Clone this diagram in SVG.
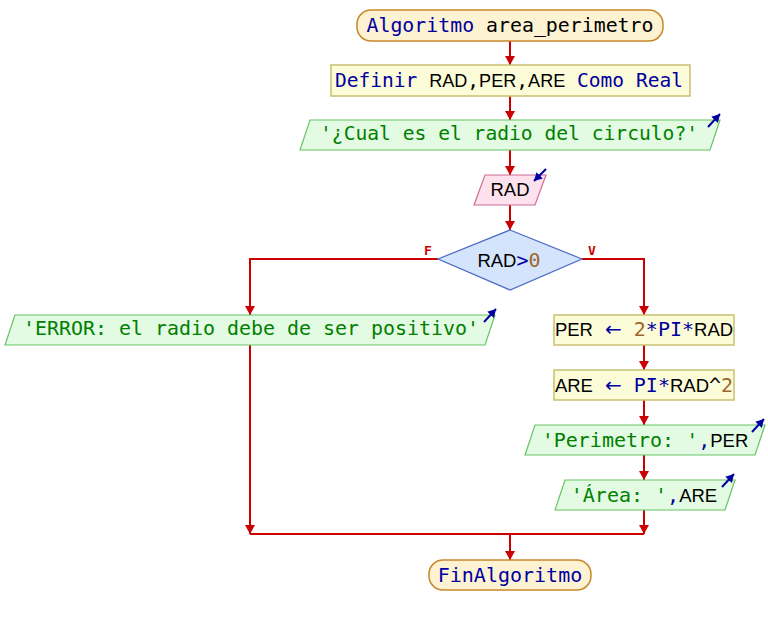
<svg xmlns="http://www.w3.org/2000/svg" width="768" height="625" viewBox="0 0 768 625">
<style>
.t{font-family:"DejaVu Sans Mono","Liberation Mono",monospace;font-size:20px;text-anchor:middle;fill:#000}
.id{font-family:"Liberation Sans","Arial",sans-serif;font-size:18.5px}
.ar{font-family:"DejaVu Sans",sans-serif;font-size:20px}
.kw{fill:#0000a0}
.str{fill:#008000}
.num{fill:#a0662a}
.term{fill:#fdf2d2;stroke:#c8882a;stroke-width:1.5}
.proc{fill:#fdfcd8;stroke:#c8c070;stroke-width:1.5}
.out{fill:#e2fbe2;stroke:#66c466;stroke-width:1.2}
.inp{fill:#fde2ee;stroke:#d06c98;stroke-width:1.2}
.dec{fill:#d4e4fc;stroke:#4a6ac8;stroke-width:1.2}
.c{fill:none;stroke:#cc0000;stroke-width:2}
.ic{fill:none;stroke:#0000a0;stroke-width:2}
.lb{font-family:"DejaVu Sans Mono",monospace;font-size:13px;font-weight:bold;fill:#cc0000;text-anchor:middle}
</style>
<defs>
<marker id="ah" markerUnits="userSpaceOnUse" markerWidth="12" markerHeight="12" refX="9" refY="6" orient="auto">
<path d="M0,1 L9,6 L0,11 z" fill="#cc0000"/>
</marker>
<marker id="bh" markerUnits="userSpaceOnUse" markerWidth="10" markerHeight="10" refX="8" refY="5" orient="auto">
<path d="M0,0.5 L8,5 L0,9.5 z" fill="#0000a0"/>
</marker>
</defs>

<g id="connectors">
<line class="c" x1="510" y1="41" x2="510" y2="65" marker-end="url(#ah)"/>
<line class="c" x1="510" y1="96" x2="510" y2="120" marker-end="url(#ah)"/>
<line class="c" x1="510" y1="150" x2="510" y2="175" marker-end="url(#ah)"/>
<line class="c" x1="510" y1="205" x2="510" y2="230" marker-end="url(#ah)"/>
<polyline class="c" points="438,259 250,259 250,315" marker-end="url(#ah)"/>
<polyline class="c" points="582,259 644,259 644,315" marker-end="url(#ah)"/>
<line class="c" x1="644" y1="345" x2="644" y2="370" marker-end="url(#ah)"/>
<line class="c" x1="644" y1="400" x2="644" y2="425" marker-end="url(#ah)"/>
<line class="c" x1="644" y1="455" x2="644" y2="480" marker-end="url(#ah)"/>
<line class="c" x1="250" y1="345" x2="250" y2="534" marker-end="url(#ah)"/>
<line class="c" x1="644" y1="510" x2="644" y2="534" marker-end="url(#ah)"/>
<line class="c" x1="250" y1="534" x2="644" y2="534"/>
<line class="c" x1="510" y1="534" x2="510" y2="560" marker-end="url(#ah)"/>
<text class="lb" x="428" y="255">F</text>
<text class="lb" x="592" y="255">V</text>
</g>

<g id="start">
<rect class="term" x="357" y="10" width="306" height="31" rx="14"/>
<text class="t" x="510" y="32" textLength="287" lengthAdjust="spacingAndGlyphs"><tspan class="kw">Algoritmo</tspan> area_perimetro</text>
</g>

<g id="define">
<rect class="proc" x="331" y="65" width="359" height="31"/>
<text class="t" x="509" y="87" textLength="348" lengthAdjust="spacingAndGlyphs"><tspan class="kw">Definir </tspan><tspan class="id">RAD</tspan>,<tspan class="id">PER</tspan>,<tspan class="id">ARE</tspan><tspan class="kw"> Como Real</tspan></text>
</g>

<g id="ask">
<polygon class="out" points="310,120 720,120 710,150 300,150"/>
<text class="t str" x="509" y="140" textLength="378" lengthAdjust="spacingAndGlyphs">'¿Cual es el radio del circulo?'</text>
<line class="ic" x1="708" y1="127" x2="720" y2="114" marker-end="url(#bh)"/>
</g>

<g id="read">
<polygon class="inp" points="485,175 546,175 535,205 474,205"/>
<text class="t id" x="510" y="196">RAD</text>
<line class="ic" x1="546" y1="169" x2="534" y2="181" marker-end="url(#bh)"/>
</g>

<g id="cond">
<polygon class="dec" points="510,230 582,259 510,290 438,259"/>
<text class="t" x="509" y="267"><tspan class="id">RAD</tspan><tspan class="kw">&gt;</tspan><tspan class="num">0</tspan></text>
</g>

<g id="error">
<polygon class="out" points="15,315 495,315 485,345 5,345"/>
<text class="t str" x="251" y="335" textLength="456" lengthAdjust="spacingAndGlyphs">'ERROR: el radio debe de ser positivo'</text>
<line class="ic" x1="484" y1="322" x2="496" y2="309" marker-end="url(#bh)"/>
</g>

<g id="per">
<rect class="proc" x="554" y="315" width="180" height="30"/>
<text class="t" x="644" y="336"><tspan class="id">PER</tspan> <tspan class="kw ar">←</tspan> <tspan class="num">2</tspan><tspan class="kw">*PI*</tspan><tspan class="id">RAD</tspan></text>
</g>

<g id="are">
<rect class="proc" x="554" y="370" width="180" height="30"/>
<text class="t" x="644" y="392"><tspan class="id">ARE</tspan> <tspan class="kw ar">←</tspan> <tspan class="kw">PI*</tspan><tspan class="id">RAD</tspan>^<tspan class="num">2</tspan></text>
</g>

<g id="showper">
<polygon class="out" points="535,425 765,425 755,455 525,455"/>
<text class="t" x="645" y="447"><tspan class="str">'Perimetro: '</tspan><tspan class="kw">,</tspan><tspan class="id">PER</tspan></text>
<line class="ic" x1="752" y1="432" x2="764" y2="419" marker-end="url(#bh)"/>
</g>

<g id="showare">
<polygon class="out" points="565,480 735,480 725,510 555,510"/>
<text class="t" x="644" y="502"><tspan class="str">'Área: '</tspan><tspan class="kw">,</tspan><tspan class="id">ARE</tspan></text>
<line class="ic" x1="722" y1="487" x2="734" y2="474" marker-end="url(#bh)"/>
</g>

<g id="end">
<rect class="term" x="429" y="560" width="162" height="30" rx="14"/>
<text class="t kw" x="510" y="582">FinAlgoritmo</text>
</g>
</svg>
